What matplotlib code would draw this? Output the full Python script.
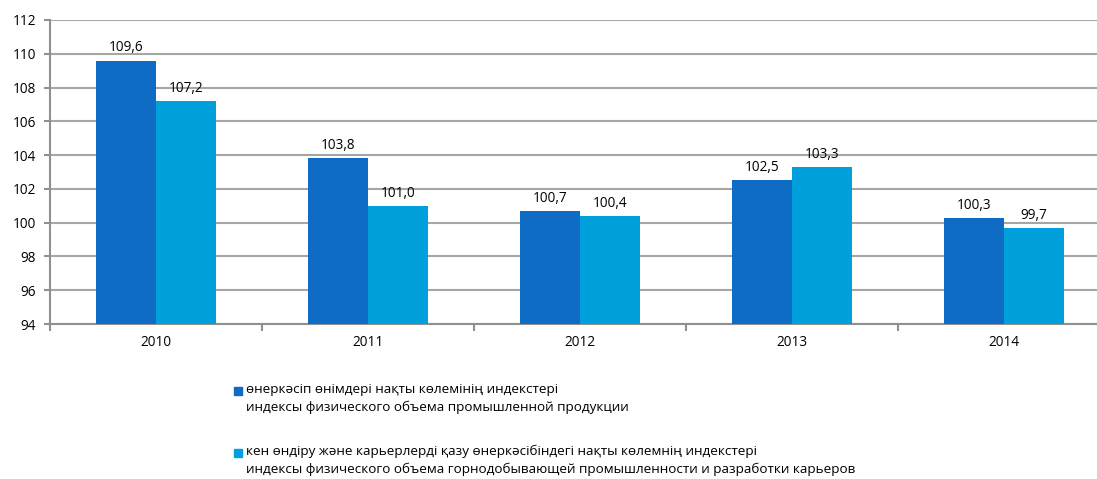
import matplotlib
matplotlib.use("Agg")
import matplotlib.pyplot as plt
import numpy as np

years = ["2010", "2011", "2012", "2013", "2014"]
industry = [109.6, 103.8, 100.7, 102.5, 100.3]
mining = [107.2, 101.0, 100.4, 103.3, 99.7]
labels = [
    "өнеркәсіп өнімдері нақты көлемінің индекстері\nиндексы физического объема промышленной продукции",
    "кен өндіру және карьерлерді қазу өнеркәсібіндегі нақты көлемнің индекстері\nиндексы физического объема горнодобывающей промышленности и разработки карьеров",
]
c1 = "#0F6CC5"
c2 = "#00A0DC"

plt.rcParams['font.family'] = ['Open Sans', 'DejaVu Sans']

W, H = 1097, 479
fig = plt.figure(figsize=(W/100, H/100), dpi=100)
ax = fig.add_axes([50/W, (H-324)/H, (1110-50)/W, 304/H])

x = np.arange(len(years))
bw = 0.283
ax.bar(x - bw/2, [v - 94 for v in industry], bw, bottom=94, color=c1, zorder=3)
ax.bar(x + bw/2, [v - 94 for v in mining], bw, bottom=94, color=c2, zorder=3)
for xi, v in zip(x - bw/2, industry):
    ax.text(xi, v + 0.3, f"{v:.1f}".replace(".", ","), ha="center", va="bottom", fontsize=9.8)
for xi, v in zip(x + bw/2, mining):
    ax.text(xi, v + 0.3, f"{v:.1f}".replace(".", ","), ha="center", va="bottom", fontsize=9.8)

ax.set_xlim(-0.5, len(years) - 0.5)
ax.set_ylim(94, 112)
ax.set_yticks(np.arange(94, 113, 2))
ax.set_xticks(x)
ax.set_xticklabels(years, fontsize=9.8)
ax.set_xticks(np.arange(-0.5, len(years), 1), minor=True)
ax.tick_params(axis="x", which="major", length=0, pad=8)
ax.tick_params(axis="x", which="minor", length=5, color="#909090", width=1.5)
ax.tick_params(axis="y", length=4, color="#909090", width=1.5, labelsize=9.8, pad=6)
ax.grid(axis="y", color="#a6a6a6", linewidth=1.5, zorder=0)
for s in ["top", "right"]:
    ax.spines[s].set_visible(False)
for s in ["left", "bottom"]:
    ax.spines[s].set_color("#909090")
    ax.spines[s].set_linewidth(1.5)

# legend
for (yy, col, lab) in [(391, c1, labels[0]), (453, c2, labels[1])]:
    fig.patches.append(plt.Rectangle((234/W, (H-yy-4)/H), 8/W, 8/H, transform=fig.transFigure, color=col, figure=fig))
    fig.text(246/W, (H-yy+8)/H, lab, fontsize=9.7, va="top", ha="left", linespacing=1.45)

fig.savefig("out.png", dpi=100)
